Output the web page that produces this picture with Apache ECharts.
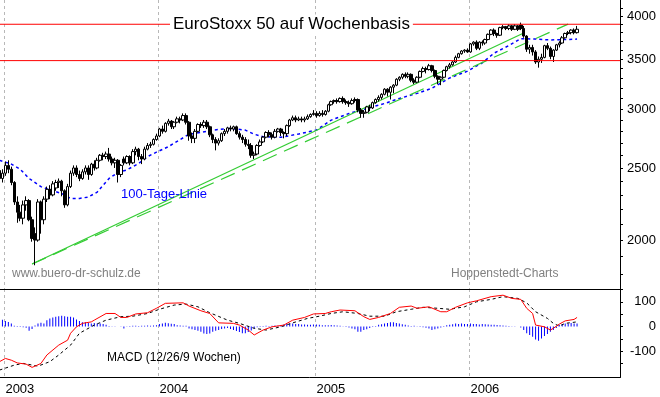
<!DOCTYPE html>
<html>
<head>
<meta charset="utf-8">
<script src="https://cdn.jsdelivr.net/npm/echarts@6/dist/echarts.min.js"></script>
<style>
  html, body { margin: 0; padding: 0; background: #fff; }
  #chart { width: 660px; height: 397px; }
</style>
</head>
<body>
<div id="chart"></div>
<script>
// weekly candles (Friday dates), first week shown is 2002-12-20
const firstWeek = Date.UTC(2002, 11, 20);
const weekCount = 210;

// [open, close, low, high]
const weeklyOHLC = [
  // 2002 / 2003
  [2480, 2420, 2380, 2540], [2420, 2460, 2390, 2490], [2460, 2520, 2440, 2550], [2520, 2490, 2460, 2560],
  [2490, 2390, 2370, 2510], [2390, 2250, 2230, 2400], [2250, 2180, 2110, 2290], [2180, 2140, 2120, 2230],
  [2140, 2230, 2100, 2260], [2230, 2260, 2190, 2290], [2260, 2130, 2120, 2270], [2130, 2010, 1990, 2150],
  [2040, 2000, 1850, 2080], [2000, 2250, 1990, 2270], [2250, 2130, 2040, 2260], [2130, 2270, 2100, 2290],
  [2270, 2340, 2250, 2360], [2340, 2300, 2270, 2370], [2300, 2380, 2290, 2400], [2350, 2390, 2330, 2410],
  [2390, 2400, 2350, 2420], [2400, 2330, 2290, 2410], [2330, 2230, 2210, 2340], [2230, 2360, 2220, 2380],
  [2360, 2460, 2350, 2480], [2460, 2500, 2440, 2520], [2500, 2450, 2430, 2520], [2450, 2420, 2400, 2480],
  [2420, 2470, 2410, 2490], [2470, 2500, 2450, 2520], [2500, 2450, 2410, 2520], [2450, 2530, 2440, 2540],
  [2530, 2500, 2480, 2560], [2500, 2560, 2490, 2580], [2560, 2600, 2550, 2610], [2600, 2590, 2560, 2620],
  [2590, 2610, 2570, 2630], [2610, 2570, 2550, 2660], [2570, 2540, 2520, 2590], [2540, 2560, 2500, 2580],
  [2560, 2450, 2390, 2570], [2450, 2520, 2430, 2530], [2570, 2540, 2520, 2590], [2540, 2590, 2530, 2600],
  [2590, 2540, 2520, 2600], [2540, 2630, 2530, 2650], [2630, 2650, 2600, 2670], [2650, 2590, 2560, 2660],
  [2590, 2570, 2530, 2610], [2570, 2650, 2560, 2670], [2650, 2680, 2640, 2700], [2680, 2690, 2660, 2710],
  [2690, 2730, 2680, 2740], [2730, 2760, 2720, 2780],
  // 2004
  [2760, 2820, 2750, 2830], [2820, 2800, 2780, 2850], [2800, 2870, 2790, 2880], [2870, 2890, 2850, 2910],
  [2890, 2840, 2820, 2900], [2840, 2880, 2820, 2890], [2880, 2910, 2870, 2930], [2910, 2900, 2870, 2930],
  [2900, 2940, 2890, 2960], [2940, 2880, 2860, 2960], [2880, 2760, 2720, 2890], [2760, 2740, 2700, 2790],
  [2740, 2800, 2700, 2820], [2800, 2860, 2790, 2870], [2860, 2850, 2830, 2880], [2850, 2880, 2830, 2900],
  [2880, 2840, 2820, 2900], [2840, 2770, 2750, 2850], [2770, 2730, 2700, 2780], [2730, 2700, 2640, 2750],
  [2700, 2720, 2680, 2740], [2720, 2780, 2710, 2790], [2780, 2800, 2760, 2820], [2800, 2830, 2780, 2840],
  [2830, 2820, 2800, 2850], [2820, 2840, 2800, 2850], [2840, 2780, 2770, 2850], [2780, 2750, 2730, 2800],
  [2750, 2730, 2700, 2770], [2730, 2690, 2670, 2750], [2690, 2680, 2650, 2730], [2680, 2600, 2580, 2700],
  [2600, 2610, 2570, 2630], [2610, 2680, 2600, 2690], [2680, 2710, 2670, 2730], [2710, 2750, 2700, 2760],
  [2750, 2790, 2740, 2800], [2790, 2770, 2750, 2810], [2770, 2750, 2730, 2790], [2750, 2800, 2740, 2820],
  [2800, 2820, 2790, 2830], [2820, 2790, 2760, 2830], [2790, 2780, 2740, 2800], [2780, 2850, 2760, 2860],
  [2850, 2900, 2840, 2910], [2900, 2920, 2890, 2940], [2920, 2900, 2880, 2940], [2900, 2910, 2890, 2930],
  [2910, 2900, 2880, 2930], [2900, 2910, 2880, 2930], [2910, 2930, 2900, 2950], [2930, 2950, 2920, 2960],
  [2950, 2960, 2940, 2990],
  // 2005
  [2960, 2940, 2920, 2980], [2940, 2960, 2930, 2980], [2960, 2950, 2930, 2990], [2950, 2980, 2940, 2990],
  [2980, 3040, 2970, 3050], [3040, 3070, 3030, 3080], [3070, 3080, 3050, 3090], [3080, 3070, 3050, 3100],
  [3070, 3100, 3060, 3110], [3100, 3070, 3050, 3120], [3070, 3060, 3040, 3090], [3060, 3050, 3020, 3080],
  [3050, 3080, 3040, 3100], [3080, 3090, 3060, 3110], [3090, 2990, 2970, 3100], [2990, 2960, 2920, 3010],
  [2960, 2970, 2920, 2990], [2970, 3020, 2960, 3030], [3020, 3010, 2980, 3040], [3010, 3060, 3000, 3070],
  [3060, 3090, 3050, 3100], [3090, 3110, 3070, 3130], [3110, 3140, 3090, 3150], [3140, 3190, 3130, 3200],
  [3190, 3160, 3120, 3200], [3160, 3210, 3090, 3220], [3210, 3230, 3150, 3240], [3230, 3290, 3220, 3300],
  [3290, 3310, 3270, 3320], [3310, 3340, 3290, 3350], [3340, 3320, 3300, 3360], [3320, 3340, 3300, 3360],
  [3340, 3280, 3260, 3350], [3280, 3260, 3240, 3300], [3260, 3310, 3250, 3320], [3310, 3370, 3300, 3380],
  [3370, 3400, 3360, 3420], [3400, 3390, 3350, 3420], [3390, 3430, 3380, 3450], [3430, 3380, 3360, 3440],
  [3380, 3320, 3300, 3390], [3320, 3290, 3240, 3330], [3290, 3310, 3230, 3320], [3310, 3380, 3300, 3390],
  [3380, 3420, 3370, 3430], [3420, 3440, 3400, 3460], [3440, 3470, 3430, 3480], [3470, 3520, 3460, 3540],
  [3520, 3560, 3510, 3570], [3560, 3590, 3550, 3600], [3590, 3600, 3570, 3610], [3600, 3580, 3570, 3620],
  // 2006
  [3580, 3670, 3570, 3680], [3670, 3690, 3650, 3700], [3690, 3620, 3600, 3710], [3620, 3690, 3600, 3700],
  [3690, 3680, 3650, 3710], [3680, 3720, 3660, 3730], [3720, 3780, 3710, 3790], [3780, 3830, 3770, 3840],
  [3830, 3790, 3760, 3850], [3790, 3770, 3740, 3800], [3770, 3860, 3760, 3870], [3860, 3870, 3840, 3890],
  [3870, 3850, 3830, 3880], [3850, 3880, 3830, 3900], [3880, 3840, 3820, 3890], [3840, 3880, 3830, 3900],
  [3880, 3840, 3820, 3890], [3890, 3850, 3830, 3920], [3850, 3760, 3740, 3880], [3760, 3610, 3580, 3770],
  [3610, 3630, 3560, 3660], [3630, 3580, 3540, 3660], [3580, 3470, 3450, 3600], [3470, 3500, 3410, 3530],
  [3500, 3520, 3460, 3560], [3520, 3650, 3510, 3660], [3650, 3620, 3600, 3680], [3620, 3530, 3500, 3640],
  [3530, 3600, 3470, 3610], [3600, 3660, 3590, 3670], [3660, 3680, 3630, 3700], [3680, 3740, 3670, 3760],
  [3740, 3790, 3730, 3800], [3790, 3800, 3770, 3820], [3800, 3830, 3780, 3840], [3830, 3800, 3780, 3850],
  [3800, 3840, 3790, 3880]
];

// 100-Tage-Linie
const ma100 = [
  ['2002-12-20', 2560], ['2003-01-17', 2530], ['2003-02-07', 2490], ['2003-02-28', 2420], ['2003-03-28', 2360],
  ['2003-04-25', 2330], ['2003-05-16', 2310], ['2003-06-06', 2275], ['2003-06-27', 2275], ['2003-07-18', 2285],
  ['2003-08-08', 2320], ['2003-08-22', 2370], ['2003-09-05', 2420], ['2003-09-26', 2465], ['2003-10-17', 2485],
  ['2003-11-14', 2535], ['2003-12-05', 2590], ['2003-12-26', 2625], ['2004-01-23', 2670], ['2004-02-20', 2730],
  ['2004-03-12', 2775], ['2004-04-09', 2790], ['2004-05-07', 2811], ['2004-06-18', 2825], ['2004-07-23', 2811],
  ['2004-08-13', 2775], ['2004-09-03', 2754], ['2004-10-15', 2749], ['2004-11-26', 2777], ['2005-01-07', 2811],
  ['2005-02-11', 2899], ['2005-03-25', 2959], ['2005-05-06', 3005], ['2005-06-17', 3052], ['2005-07-22', 3100],
  ['2005-09-02', 3149], ['2005-10-07', 3199], ['2005-11-18', 3303], ['2005-12-30', 3373], ['2006-02-03', 3461],
  ['2006-03-03', 3567], ['2006-04-07', 3651], ['2006-05-05', 3730], ['2006-06-09', 3725], ['2006-07-14', 3715],
  ['2006-08-18', 3720], ['2006-09-15', 3725]
];

// trend lines from the March 2003 low
const trendSolid = [['2003-03-07', 1857], ['2006-05-12', 3795]];
const trendDashed = [['2003-03-07', 1857], ['2006-08-25', 3902]];

// horizontal resistance / support
const levels = [3900, 3485];

const priceTicks = [1800, 1900, 2000, 2100, 2200, 2300, 2400, 2500, 2600, 2700, 2800, 2900,
  3000, 3100, 3200, 3300, 3400, 3500, 3600, 3700, 3800, 3900, 4000, 4100];
const priceLabels = [2000, 2500, 3000, 3500, 4000];

// MACD (12/26/9)
const macdLine = [
  ['2002-12-20', -142], ['2003-01-03', -129], ['2003-01-17', -136], ['2003-01-31', -147], ['2003-02-21', -152],
  ['2003-03-07', -165], ['2003-03-14', -160], ['2003-03-28', -149], ['2003-04-11', -115], ['2003-05-09', -75],
  ['2003-05-30', -55], ['2003-06-06', -27], ['2003-06-20', -1], ['2003-07-04', 13], ['2003-07-25', 19],
  ['2003-08-01', 26], ['2003-08-29', 53], ['2003-09-19', 53], ['2003-10-03', 37], ['2003-10-17', 37],
  ['2003-11-07', 51], ['2003-12-05', 56], ['2003-12-26', 74], ['2004-01-16', 94], ['2004-02-27', 96],
  ['2004-03-12', 83], ['2004-04-09', 64], ['2004-04-30', 53], ['2004-05-21', 15], ['2004-06-25', 13],
  ['2004-07-09', 6], ['2004-07-30', -14], ['2004-08-13', -34], ['2004-09-03', -14], ['2004-09-24', -1],
  ['2004-10-22', 6], ['2004-11-12', 26], ['2004-12-10', 37], ['2004-12-31', 51], ['2005-01-28', 53],
  ['2005-02-11', 60], ['2005-03-04', 67], ['2005-04-08', 64], ['2005-04-29', 40], ['2005-05-13', 29],
  ['2005-06-03', 37], ['2005-07-01', 53], ['2005-07-22', 78], ['2005-08-19', 83], ['2005-09-02', 74],
  ['2005-09-30', 80], ['2005-10-28', 60], ['2005-11-11', 60], ['2005-12-02', 78], ['2005-12-30', 96],
  ['2006-01-20', 104], ['2006-02-24', 121], ['2006-03-24', 127], ['2006-04-14', 114], ['2006-05-05', 110],
  ['2006-05-19', 74], ['2006-06-02', 53], ['2006-06-09', 6], ['2006-06-30', -1], ['2006-07-14', -14],
  ['2006-07-21', -7], ['2006-08-04', 10], ['2006-08-18', 23], ['2006-09-08', 29], ['2006-09-15', 37]
];
const signalLine = [
  ['2002-12-20', -176], ['2003-01-24', -156], ['2003-02-14', -149], ['2003-03-21', -160], ['2003-04-18', -142],
  ['2003-05-09', -115], ['2003-06-06', -75], ['2003-06-27', -27], ['2003-08-01', 6], ['2003-08-29', 26],
  ['2003-10-03', 40], ['2003-10-31', 42], ['2003-12-05', 53], ['2004-01-02', 70], ['2004-02-06', 87],
  ['2004-03-05', 91], ['2004-04-02', 80], ['2004-04-30', 56], ['2004-06-11', 26], ['2004-07-09', 13],
  ['2004-08-13', -7], ['2004-09-10', -14], ['2004-10-15', -1], ['2004-11-12', 15], ['2004-12-17', 33],
  ['2005-01-14', 42], ['2005-02-11', 53], ['2005-03-11', 60], ['2005-04-15', 53], ['2005-05-13', 42],
  ['2005-06-17', 42], ['2005-07-15', 60], ['2005-08-19', 70], ['2005-09-16', 78], ['2005-10-21', 74],
  ['2005-11-18', 70], ['2005-12-23', 80], ['2006-01-20', 100], ['2006-02-24', 110], ['2006-03-24', 121],
  ['2006-04-28', 114], ['2006-05-19', 96], ['2006-06-09', 60], ['2006-07-07', 33], ['2006-07-21', 13],
  ['2006-08-04', 2], ['2006-08-18', 13], ['2006-09-15', 19]
];
// histogram, one value per week from 2002-12-20
const macdHist = [
  28, 28, 23, 19, 12, 3, 2, 2, -3, -5, -17, -10, 4, 12, 15, 12, 26, 33, 37, 40,
  42, 44, 42, 40, 40, 37, 29, 23, 17, 17, 14, 12, 14, 12, 12, 10, 7, 2, 1, -1,
  0, 1, -8, 1, 2, 3, 3, 2, 3, 3, 4, 3, 4, 5, 10, 12, 15, 13, 11, 10,
  5, 4, 3, 3, -8, -11, -14, -17, -21, -28, -30, -28, -21, -17, -14, -10, -8, -6, -10, -14,
  -18, -22, -27, -27, -22, -16, -8, -3, 2, -2, 3, 2, 3, 4, 3, 5, 8, 12, 12, 12,
  10, 10, 8, 8, 7, 7, 8, 8, 7, 5, 5, 5, 6, 5, 4, 3, 1, -2, -4, -8,
  -11, -21, -21, -14, -11, -6, -2, 2, 7, 9, 12, 14, 17, 17, 14, 12, 9, 7, 4, 2,
  3, 1, -2, -3, -5, -8, -14, -11, -8, -4, 2, 5, 7, 9, 12, 10, 12, 10, 10, 12,
  10, 10, 8, 10, 9, 8, 7, 7, 6, 5, 4, 3, 2, 1, 1, 0, -4, -14, -27, -34,
  -41, -52, -57, -48, -38, -30, -21, -14, -6, 7, 10, 12, 12, 14, 12, 12
];
const macdTicks = [-150, -100, -50, 0, 50, 100, 150];
const macdLabels = [-100, 0, 100];

const weeks = [];
for (let i = 0; i < weekCount; i++) {
  weeks.push(new Date(firstWeek + i * 7 * 86400000).toISOString().slice(0, 10));
}
const weekIdx = d => weeks.indexOf(d);
const isYearStart = i => i > 0 && weeks[i].slice(0, 4) !== weeks[i - 1].slice(0, 4);
const isMonthStart = i => i > 0 && weeks[i].slice(0, 7) !== weeks[i - 1].slice(0, 7);
const lg = v => Math.log10(v);
const pts = (arr, f) => arr.map(([d, v]) => [weekIdx(d), f ? f(v) : v]);

const font = 'Liberation Sans, Arial, sans-serif';
const yearLine = () => ({ show: true, interval: isYearStart, lineStyle: { color: '#b8b8b8', type: [3, 3], width: 1 } });

const texts = [
  { type: 'text', x: 170, y: 24, z: 100,
    style: { text: 'EuroStoxx 50 auf Wochenbasis', fill: '#000', font: '17px ' + font,
      verticalAlign: 'middle', backgroundColor: '#fff', padding: [1, 3] } },
  { type: 'text', x: 121, y: 194, z: 100,
    style: { text: '100-Tage-Linie', fill: '#0000ff', font: '13px ' + font, verticalAlign: 'middle' } },
  { type: 'text', x: 12, y: 274, z: 100,
    style: { text: 'www.buero-dr-schulz.de', fill: '#808080', font: '12px ' + font, verticalAlign: 'middle' } },
  { type: 'text', x: 451, y: 274, z: 100,
    style: { text: 'Hoppenstedt-Charts', fill: '#808080', font: '12px ' + font, verticalAlign: 'middle' } },
  { type: 'text', x: 107, y: 358, z: 100,
    style: { text: 'MACD (12/26/9 Wochen)', fill: '#000', font: '12px ' + font, verticalAlign: 'middle' } }
];

const chart = echarts.init(document.getElementById('chart'));
chart.setOption({
  animation: false,
  backgroundColor: '#fff',
  textStyle: { fontFamily: font },
  grid: [
    { left: -2, right: 40, top: 0, height: 289, outerBoundsMode: 'none' },
    { left: -2, right: 40, top: 289, height: 88.5, outerBoundsMode: 'none' },
    { left: -2, right: 40, top: 377.5, height: 19.5, outerBoundsMode: 'none' }
  ],
  xAxis: [
    {
      type: 'category', gridIndex: 0, data: weeks, boundaryGap: true, position: 'bottom',
      axisLine: { onZero: false, lineStyle: { color: '#000', width: 1 } },
      axisTick: { show: false }, axisLabel: { show: false },
      splitLine: yearLine()
    },
    {
      type: 'category', gridIndex: 1, data: weeks, boundaryGap: true, position: 'bottom',
      axisLine: { onZero: false, lineStyle: { color: '#000', width: 1 } },
      axisTick: { interval: isMonthStart, length: 5, lineStyle: { color: '#000' } },
      axisLabel: {
        interval: isYearStart, formatter: v => v.slice(0, 4), align: 'left', margin: 5,
        fontSize: 13, color: '#000', fontFamily: font
      },
      splitLine: yearLine()
    },
    {
      // long year ticks below the axis
      type: 'category', gridIndex: 2, data: weeks, boundaryGap: true, position: 'top',
      axisLine: { show: false, onZero: false },
      axisTick: { interval: isYearStart, inside: true, length: 20, lineStyle: { color: '#000' } },
      axisLabel: { show: false }, splitLine: { show: false }
    }
  ],
  yAxis: [
    {
      type: 'value', gridIndex: 0, position: 'right', min: lg(1719), max: lg(4204),
      axisLine: { show: true, onZero: false, lineStyle: { color: '#000' } },
      axisTick: { show: true, customValues: priceTicks.map(lg), length: 3, lineStyle: { color: '#000' } },
      axisLabel: {
        customValues: priceLabels.map(lg), formatter: v => String(Math.round(Math.pow(10, v))),
        align: 'right', margin: 36, fontSize: 13, color: '#000', fontFamily: font
      },
      splitLine: { show: false }
    },
    {
      type: 'value', gridIndex: 1, position: 'right', min: -206, max: 152,
      axisLine: { show: true, onZero: false, lineStyle: { color: '#000' } },
      axisTick: { show: true, customValues: macdTicks, length: 3, lineStyle: { color: '#000' } },
      axisLabel: {
        customValues: macdLabels, align: 'right', margin: 36, fontSize: 13, color: '#000', fontFamily: font
      },
      splitLine: { show: false }
    },
    { type: 'value', gridIndex: 2, min: 0, max: 1, show: false }
  ],
  series: [
    {
      type: 'line', xAxisIndex: 0, yAxisIndex: 0, data: pts(ma100, lg), showSymbol: false, z: 2,
      lineStyle: { color: '#0000ff', width: 1.5, type: [3, 3] }
    },
    {
      type: 'line', xAxisIndex: 0, yAxisIndex: 0, data: pts(trendSolid, lg), showSymbol: false, z: 2,
      lineStyle: { color: '#33cc33', width: 1.2 }
    },
    {
      type: 'line', xAxisIndex: 0, yAxisIndex: 0, data: pts(trendDashed, lg), showSymbol: false, z: 2,
      lineStyle: { color: '#33cc33', width: 1.2, type: [15, 8] }
    },
    {
      type: 'candlestick', xAxisIndex: 0, yAxisIndex: 0, z: 3, barWidth: 3,
      data: weeklyOHLC.map(r => r.map(lg)),
      itemStyle: { color: '#fff', color0: '#000', borderColor: '#000', borderColor0: '#000', borderWidth: 1 }
    },
    {
      type: 'bar', xAxisIndex: 1, yAxisIndex: 1, data: macdHist, barWidth: 1,
      itemStyle: { color: '#0000ff' }
    },
    {
      type: 'line', xAxisIndex: 1, yAxisIndex: 1, data: pts(signalLine), showSymbol: false,
      lineStyle: { color: '#000', width: 1, type: [3, 3] }
    },
    {
      type: 'line', xAxisIndex: 1, yAxisIndex: 1, data: pts(macdLine), showSymbol: false,
      lineStyle: { color: '#ff0000', width: 1 }
    }
  ],
  graphic: texts
});

// red level lines, placed through the price axis
const gridRect = chart.getModel().getComponent('grid', 0).coordinateSystem.getRect();
const levelLines = levels.map(v => {
  const y = chart.convertToPixel({ yAxisIndex: 0 }, lg(v));
  return {
    type: 'line', z: 90,
    shape: { x1: Math.max(gridRect.x, 0), y1: y, x2: gridRect.x + gridRect.width, y2: y },
    style: { stroke: '#ff0000', lineWidth: 1 }
  };
});
chart.setOption({ graphic: texts.concat(levelLines) }, { replaceMerge: ['graphic'] });
</script>
</body>
</html>
